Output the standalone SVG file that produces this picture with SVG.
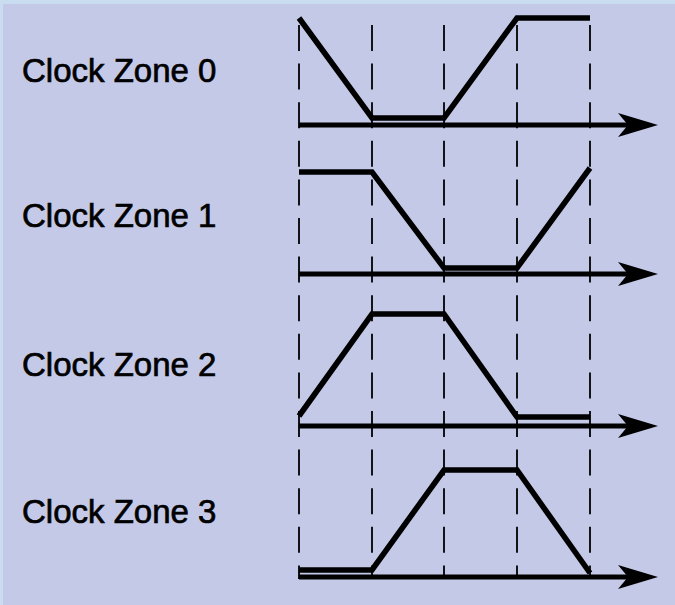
<svg xmlns="http://www.w3.org/2000/svg" width="675" height="605" viewBox="0 0 675 605">
<style>
.lbl{font-family:"Liberation Sans",Arial,sans-serif;font-size:33px;fill:#000;stroke:#000;stroke-width:0.7}
.grid{stroke:#000;stroke-width:1.8;stroke-dasharray:26 12.6;fill:none}
.axis{stroke:#000;stroke-width:5;fill:none}
.wave{stroke:#000;stroke-width:5.6;fill:none;stroke-linejoin:miter}
.head{fill:#000}
</style>
<rect x="0" y="0" width="675" height="605" fill="#c9dcf0"/>
<rect x="3" y="4" width="672" height="601" fill="#c3c9e7"/>
<g id="grid">
<line class="grid" x1="299" y1="25" x2="299" y2="579"/>
<line class="grid" x1="372" y1="25" x2="372" y2="579"/>
<line class="grid" x1="444" y1="25" x2="444" y2="579"/>
<line class="grid" x1="517" y1="25" x2="517" y2="579"/>
<line class="grid" x1="590" y1="25" x2="590" y2="579"/>
</g>
<g id="zone0">
<text class="lbl" x="22" y="82">Clock Zone 0</text>
<path class="wave" d="M299,18 L372,118 L444,118 L517,18 L590,18"/>
</g>
<g id="zone1">
<text class="lbl" x="22" y="227">Clock Zone 1</text>
<path class="wave" d="M299,172 L372,172 L444,268 L517,268 L590,168"/>
</g>
<g id="zone2">
<text class="lbl" x="22" y="376">Clock Zone 2</text>
<path class="wave" d="M299,416 L372,314 L444,314 L517,417 L590,417"/>
</g>
<g id="zone3">
<text class="lbl" x="22" y="523">Clock Zone 3</text>
<path class="wave" d="M299,570 L372,570 L444,470 L517,470 L590,573"/>
</g>
<g id="connectors">
<line class="axis" x1="299" y1="125" x2="632" y2="125"/>
<path class="head" d="M658,125 L618,113 L628,125 L618,137 Z"/>
<line class="axis" x1="299" y1="274" x2="632" y2="274"/>
<path class="head" d="M658,274 L618,262 L628,274 L618,286 Z"/>
<line class="axis" x1="299" y1="426" x2="632" y2="426"/>
<path class="head" d="M658,426 L618,414 L628,426 L618,438 Z"/>
<line class="axis" x1="299" y1="577" x2="632" y2="577"/>
<path class="head" d="M658,577 L618,565 L628,577 L618,589 Z"/>
</g>
</svg>
